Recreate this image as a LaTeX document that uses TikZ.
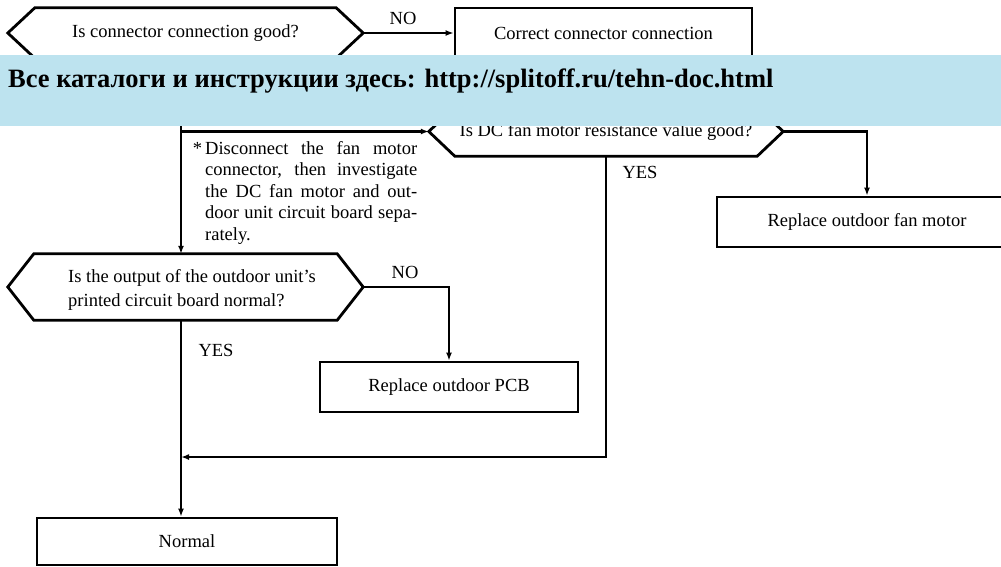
\documentclass[tikz,border=0pt]{standalone}
\usepackage{fontspec}
\setmainfont{Liberation Serif}
\usetikzlibrary{arrows.meta}
\definecolor{bannerblue}{HTML}{BDE3EF}
\newcommand\hexdraw[2]{\draw[hexline] (#1.west) -- ([xshift=#2]#1.north west) -- ([xshift=-#2]#1.north east) -- (#1.east) -- ([xshift=-#2]#1.south east) -- ([xshift=#2]#1.south west) -- cycle;}
\begin{document}
\begin{tikzpicture}[x=1pt,y=-1pt,
  every node/.style={font=\fontsize{18.5}{21.5}\selectfont},
  box/.style={draw, line width=2.8pt, minimum height=50pt, inner sep=0pt},
  hexnode/.style={inner sep=0pt, minimum height=50pt},
  hexline/.style={line width=2.8pt, line join=miter},
  conn/.style={line width=2.6pt},
  arr/.style={conn, -{Latex[length=8pt,width=6pt]}},
  lbl/.style={inner sep=0pt}]
\useasboundingbox (0,0) rectangle (1001,566);
\clip (0,0) rectangle (1001,566);

% decision and process nodes
\node[hexnode, minimum width=355pt] (d1) at (185.5,33) {Is connector connection good?};
\node[box, minimum width=297pt] (c1) at (603.5,33) {Correct connector connection};
\node[hexnode, minimum width=354pt, minimum height=49pt] (d2) at (606,131.5) {\raisebox{-2pt}{Is DC fan motor resistance value good?}};
\node[hexnode, minimum width=355pt, minimum height=66pt] (d3) at (185.5,287) {};
\node[lbl, anchor=west, align=left, font=\fontsize{18.5}{24}\selectfont] (d3t) at (68,290) {Is the output of the outdoor unit's\\printed circuit board normal?};
\node[box, minimum width=300pt] (fan) at (867,222) {Replace outdoor fan motor};
\node[box, minimum width=258pt] (pcb) at (449,387) {Replace outdoor PCB};
\node[box, minimum width=300pt, minimum height=47pt] (normal) at (187,541.5) {Normal};

\hexdraw{d1}{27pt}
\hexdraw{d2}{26pt}
\hexdraw{d3}{26pt}

% junctions
\coordinate (j1) at (181,131.5);
\coordinate (j2) at (181,457);

% connectors
\draw[arr] (d1.east) -- (c1.west);
\node[lbl] (no1) at (403,18) {NO};
\draw[conn] (d1.south -| j1) -- (j1);
\draw[arr] (j1) -- (d2.west);
\draw[arr] (j1) -- (d3.north -| j1);
\draw[arr] (d2.east) -| (fan.north);
\draw[arr] (d2.south) |- (j2);
\node[lbl] (yes2) at (640,172) {YES};
\draw[arr] (d3.east) -| (pcb.north);
\node[lbl] (no3) at (405,272) {NO};
\draw[arr] (d3.south -| j1) -- (normal.north -| j1);
\node[lbl] (yes3) at (216,350) {YES};

% note
\node[lbl, anchor=north west, align=left] (note) at (205,141) {\llap{*\,}\makebox[212pt][s]{Disconnect the fan motor}\\
\makebox[212pt][s]{connector, then investigate}\\
\makebox[212pt][s]{the DC fan motor and out-}\\
\makebox[212pt][s]{door unit circuit board sepa-}\\
rately.};

% banner overlay
\fill[bannerblue] (0,55) rectangle (1001,126);
\node[lbl, anchor=base west, font=\fontsize{26.5}{30}\selectfont\bfseries] (banner) at (8,87) {Все каталоги и инструкции здесь: http://splitoff.ru/tehn-doc.html};
\end{tikzpicture}
\end{document}
